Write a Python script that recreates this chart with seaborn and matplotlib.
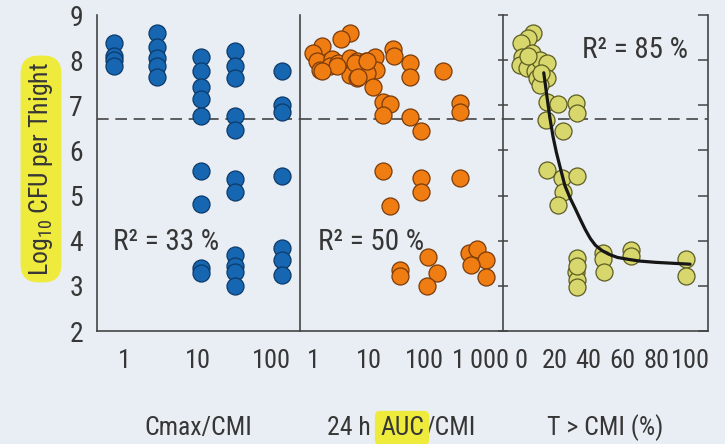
import matplotlib
matplotlib.use("Agg")
import matplotlib.pyplot as plt
from matplotlib import font_manager as fm
from matplotlib.ticker import NullLocator
import seaborn as sns
import pandas as pd

# ---- Cmax / CMI panel ----
cmax_ratio = [0.73, 0.73, 0.73, 0.73,
              2.77, 2.77, 2.77, 2.77, 2.77,
              10.9, 10.9, 10.9, 10.9, 10.9, 10.9, 10.9, 10.9, 10.9,
              31.6, 31.6, 31.6, 31.6, 31.6, 31.6, 31.6, 31.6, 31.6, 31.6, 31.6,
              139, 139, 139, 139, 139, 139, 139]
cmax_cfu = [8.38, 8.10, 8.00, 7.88,
            8.60, 8.30, 8.05, 7.88, 7.62,
            8.06, 7.77, 7.40, 7.13, 6.77, 5.55, 4.82, 3.40, 3.28,
            8.21, 7.87, 7.60, 6.77, 6.46, 5.37, 5.09, 3.69, 3.45, 3.30, 3.00,
            7.77, 7.01, 6.86, 5.44, 3.84, 3.58, 3.25]

# ---- 24 h AUC / CMI panel ----
auc_ratio = [4.56, 3.1, 1.41, 1.0, 1.15, 1.32, 2.13, 1.98, 2.8, 4.56,
             5.96, 8.7, 12.6, 13.1, 4.56, 5.96, 9.2, 11.8, 26.8, 27.6,
             54.9, 54.9, 215, 17.8, 24.1, 17.8, 54.9, 86.5, 430, 430,
             17.4, 86.5, 86.5, 430, 24.1, 35.3, 35.3, 113, 164, 109,
             630, 850, 1250, 675, 1250, 2.63, 5.59, 6.4, 1.41, 9.06]
auc_cfu = [8.60, 8.46, 8.31, 8.15, 7.97, 7.78, 8.02, 7.86, 7.93, 8.04,
           7.97, 7.98, 8.06, 7.78, 7.67, 7.60, 7.72, 7.41, 8.24, 8.09,
           7.93, 7.63, 7.77, 7.08, 7.03, 6.79, 6.75, 6.43, 7.06, 6.86,
           5.55, 5.39, 5.07, 5.39, 4.76, 3.36, 3.21, 3.65, 3.29, 3.00,
           3.73, 3.82, 3.58, 3.47, 3.20, 7.86, 7.93, 7.63, 7.75, 7.97]

# ---- T > CMI panel ----
t_above = [7.3, 4.3, -0.2, 0.4, 6.3, -0.6, 3.4, 8.3, 11.2, 15.2,
           9.3, 15.2, 11.2, 15.2, 22.0, 32.5, 33.0, 14.8, 25.0, 15.2,
           24.0, 33.0, 24.7, 22.0, 33.0, 32.5, 33.0, 33.3, 48.7, 48.7,
           49.0, 65.0, 65.0, 97.6, 97.6, 4.0, 12.0, 33.0]
t_cfu = [8.60, 8.48, 8.39, 8.08, 8.15, 7.90, 7.82, 7.75, 8.00, 7.93,
         7.60, 7.60, 7.45, 7.08, 7.03, 7.05, 6.84, 6.68, 6.42, 5.57,
         5.39, 5.44, 5.09, 4.80, 3.62, 3.30, 3.14, 2.98, 3.73, 3.60,
         3.30, 3.80, 3.67, 3.60, 3.21, 8.10, 7.72, 3.45]

# fitted Emax curve (T > CMI)
curve_t = [13.5, 15, 17, 19, 21, 23.5, 26, 29, 32, 35, 38, 41, 44, 48,
           52, 57, 63, 70, 80, 90, 100]
curve_cfu = [7.72, 7.30, 6.75, 6.30, 5.95, 5.58, 5.22, 4.95, 4.72, 4.48,
             4.25, 4.05, 3.90, 3.78, 3.70, 3.63, 3.59, 3.55, 3.52, 3.50, 3.48]

stasis_level = 6.69
r2_labels = ["R\u00b2 = 33 %", "R\u00b2 = 50 %", "R\u00b2 = 85 %"]
cmax_ticks = [1, 10, 100]
cmax_ticklabels = ["1", "10", "100"]
auc_ticks = [1, 10, 100, 1000]
auc_ticklabels = ["1", "10", "100", "1\u2009000"]
t_ticks = [0, 20, 40, 60, 80, 100]
t_ticklabels = ["0", "20", "40", "60", "80", "100"]

BG = "#e9eef4"
INK = "#363636"
YELLOW = "#eeeb3c"

# pick a narrow sans face if one is available
available = {f.name for f in fm.fontManager.ttflist}
condensed_dejavu = any(f.name == "DejaVu Sans" and "condensed" in str(f.stretch)
                       for f in fm.fontManager.ttflist)
font_stretch = "normal"
if "Liberation Sans Narrow" in available:
    base_font = "Liberation Sans Narrow"
elif "Roboto Condensed" in available:
    base_font = "Roboto Condensed"
elif "Open Sans Condensed" in available:
    base_font = "Open Sans Condensed"
elif condensed_dejavu:
    base_font = "DejaVu Sans"
    font_stretch = "condensed"
else:
    base_font = "Liberation Sans"

sns.set_theme(style="white")
plt.rcParams["font.family"] = [base_font, "DejaVu Sans"]
plt.rcParams["font.stretch"] = font_stretch
plt.rcParams["mathtext.fontset"] = "custom"
plt.rcParams["mathtext.rm"] = base_font
plt.rcParams["text.color"] = INK

fig = plt.figure(figsize=(7.25, 4.44), dpi=100, facecolor=BG)
W, Hf = 725, 444
bottom = 1 - 331 / Hf
height = 316 / Hf
ax1 = fig.add_axes([97 / W, bottom, 203 / W, height])
ax2 = fig.add_axes([300 / W, bottom, 203 / W, height])
ax3 = fig.add_axes([503 / W, bottom, 205 / W, height])

TICK_FS = 19
LABEL_FS = 18.5
R2_FS = 21

panels = [
    (ax1, cmax_ratio, cmax_cfu, "#1666b2", "#0c3a68"),
    (ax2, auc_ratio, auc_cfu, "#f07d12", "#7a3b0a"),
    (ax3, t_above, t_cfu, "#d8d76e", "#5c5c22"),
]
for ax, xs, ys, fc, ec in panels:
    ax.set_facecolor(BG)
    df = pd.DataFrame({"x": xs, "y": ys})
    sns.scatterplot(data=df, x="x", y="y", ax=ax, s=150, color=fc,
                    edgecolor=ec, linewidth=0.9, zorder=3, legend=False)
    ax.axhline(stasis_level, color="#444444", lw=1.2, ls=(0, (7, 4)), zorder=1)
    ax.set_ylim(2, 9)
    ax.set_yticks(range(2, 10))
    ax.set_xlabel("")
    ax.set_ylabel("")
    for side in ["top", "right"]:
        ax.spines[side].set_visible(False)
    for side in ["left", "bottom"]:
        ax.spines[side].set_color("#444444")
        ax.spines[side].set_linewidth(1.2)
    ax.tick_params(axis="x", direction="in", length=7, width=1.1,
                   color="#444444", labelsize=TICK_FS, labelcolor=INK, pad=13)

ax1.set_xscale("log")
ax1.set_xlim(0.43, 240)
ax1.set_xticks(cmax_ticks, cmax_ticklabels)
ax2.set_xscale("log")
ax2.set_xlim(0.578, 2510)
ax2.set_xticks(auc_ticks, auc_ticklabels)
ax3.set_xlim(-10.6, 110.6)
ax3.set_xticks(t_ticks, t_ticklabels)
for ax in (ax1, ax2):
    ax.xaxis.set_minor_locator(NullLocator())

ax1.tick_params(axis="y", direction="in", length=7, width=1.1, color="#444444",
                labelsize=TICK_FS + 1, labelcolor=INK, pad=10)
for ax in (ax2, ax3):
    ax.tick_params(axis="y", direction="inout", length=7, width=1.1,
                   color="#444444", labelleft=False)

sns.lineplot(x=curve_t, y=curve_cfu, ax=ax3, color="#161616", lw=2.3,
             zorder=4, legend=False)

# right frame of the last panel, ticks pointing inward
ax3r = ax3.twinx()
ax3r.set_ylim(2, 9)
ax3r.set_yticks(range(2, 10))
ax3r.tick_params(axis="y", direction="in", length=7, width=1.1,
                 color="#444444", labelright=False, right=True)
for side in ["top", "left", "bottom"]:
    ax3r.spines[side].set_visible(False)
ax3r.spines["right"].set_color("#444444")
ax3r.spines["right"].set_linewidth(1.2)

# R² annotations
ax1.text(0.079, 0.282, r2_labels[0], transform=ax1.transAxes, fontsize=R2_FS,
         va="center", ha="left", zorder=5)
ax2.text(0.089, 0.282, r2_labels[1], transform=ax2.transAxes, fontsize=R2_FS,
         va="center", ha="left", zorder=5)
ax3.text(0.385, 0.889, r2_labels[2], transform=ax3.transAxes, fontsize=R2_FS,
         va="center", ha="left", zorder=5)

# axis titles
fig.text(41 / W, 1 - 169 / Hf, "Log$_\\mathregular{10}$ CFU per Thight",
         rotation=90, ha="center", va="center", fontsize=LABEL_FS,
         bbox=dict(boxstyle="round,pad=0.25,rounding_size=0.7", fc=YELLOW, ec="none"))

base_y = 1 - 435 / Hf
fig.text(198.5 / W, base_y, "Cmax/CMI", ha="center", va="baseline", fontsize=LABEL_FS)
t_auc = fig.text(402 / W, base_y, "AUC", ha="center", va="baseline", fontsize=LABEL_FS,
                 bbox=dict(boxstyle="round,pad=0.2", fc=YELLOW, ec="none"), zorder=2)
ax2.annotate("24 h", xy=(0, 0), xycoords=t_auc, xytext=(-7, 0),
             textcoords="offset points", ha="right", va="bottom", fontsize=LABEL_FS)
ax2.annotate("/CMI", xy=(1, 0), xycoords=t_auc, xytext=(1, 0),
             textcoords="offset points", ha="left", va="bottom", fontsize=LABEL_FS)
fig.text(605.5 / W, base_y, "T > CMI (%)", ha="center", va="baseline", fontsize=LABEL_FS)

fig.savefig("out.png", dpi=100, facecolor=BG)
